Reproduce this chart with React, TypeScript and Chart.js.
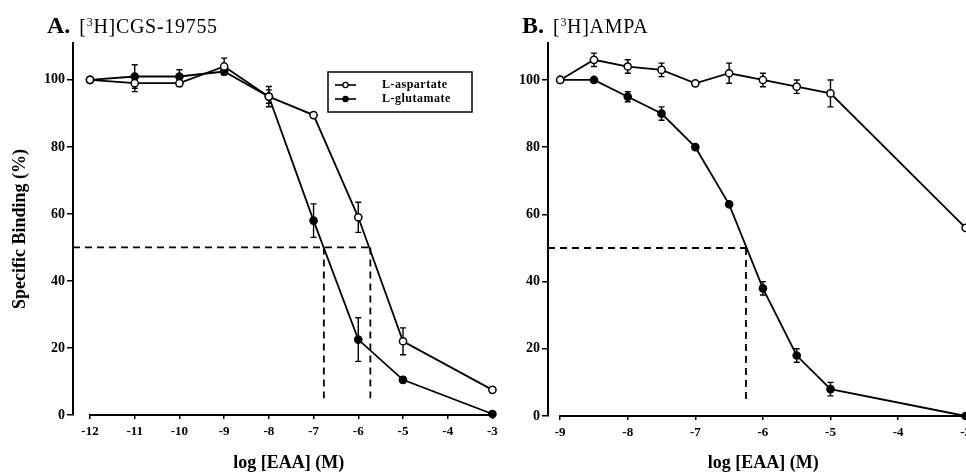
import React, { useEffect, useRef } from "react";
import { Chart, registerables } from "chart.js";

Chart.register(...registerables);

const FONT = "'Liberation Serif', 'Times New Roman', serif";

// ---- Panel A: [3H]CGS-19755 ----
const xA = [-12, -11, -10, -9, -8, -7, -6, -5, -3];
const aspartateA = [100, 99, 99, 104, 95, 89.5, 59, 22, 7.5];
const aspartateErrA = [0, 2.5, 1, 2.5, 2, 0, 4.5, 4, 0];
const glutamateA = [100, 101, 101, 102.5, 95, 58, 22.5, 10.5, 0.3];
const glutamateErrA = [0, 3.5, 2, 1, 3, 5, 6.5, 0.8, 0];
const xTicksA = [-12, -11, -10, -9, -8, -7, -6, -5, -4, -3];
const ic50A = [-6.77, -5.73];

// ---- Panel B: [3H]AMPA ----
const xB = [-9, -8.5, -8, -7.5, -7, -6.5, -6, -5.5, -5, -3];
const aspartateB = [100, 106, 104, 103, 99, 102, 100, 98, 96, 56];
const aspartateErrB = [0, 2, 2, 2, 0, 3, 2, 2, 4, 0];
const glutamateB = [100, 100, 95, 90, 80, 63, 38, 18, 8, 0];
const glutamateErrB = [0, 0, 1.5, 2, 0, 0.5, 2, 2, 2, 0];
const xTicksB = [-9, -8, -7, -6, -5, -4, -3];
const ic50B = [-6.25];

const yTicks = [0, 20, 40, 60, 80, 100];
const halfLevel = 50;
const dashFloor = 5;

const seriesNames = ["L-aspartate", "L-glutamate"];

const pts = (xs: number[], ys: number[]) => xs.map((x, i) => ({ x, y: ys[i] }));

const errorBarPlugin = {
  id: "errorBars",
  beforeDatasetsDraw(chart: any) {
    const ctx = chart.ctx;
    const yScale = chart.scales.y;
    ctx.save();
    ctx.strokeStyle = "#000";
    ctx.lineWidth = 1.4;
    chart.data.datasets.forEach((ds: any, i: number) => {
      if (!ds.errors) return;
      const meta = chart.getDatasetMeta(i);
      ds.data.forEach((p: any, j: number) => {
        const e = ds.errors[j];
        if (!e) return;
        const x = meta.data[j].x;
        const yt = yScale.getPixelForValue(p.y + e);
        const yb = yScale.getPixelForValue(p.y - e);
        ctx.beginPath();
        ctx.moveTo(x, yt);
        ctx.lineTo(x, yb);
        ctx.moveTo(x - 3, yt);
        ctx.lineTo(x + 3, yt);
        ctx.moveTo(x - 3, yb);
        ctx.lineTo(x + 3, yb);
        ctx.stroke();
      });
    });
    ctx.restore();
  },
};

const axisLinePlugin = {
  id: "axisLine",
  afterDraw(chart: any, _args: any, opts: any) {
    const ctx = chart.ctx;
    const xs = chart.scales.x;
    const ticks: number[] = opts.ticks;
    const y = chart.chartArea.bottom;
    ctx.save();
    ctx.strokeStyle = "#000";
    ctx.lineWidth = 2;
    ctx.beginPath();
    ctx.moveTo(xs.getPixelForValue(ticks[0]) - 1, y);
    ctx.lineTo(xs.getPixelForValue(ticks[ticks.length - 1]) + 1, y);
    ctx.stroke();
    ctx.restore();
  },
};

const boxLegendPlugin = {
  id: "boxLegend",
  afterDraw(chart: any, _args: any, opts: any) {
    if (!opts || !opts.show) return;
    const ctx = chart.ctx;
    const { left, top, width, height } = opts;
    ctx.save();
    ctx.strokeStyle = "#000";
    ctx.lineWidth = 1.5;
    ctx.fillStyle = "#fff";
    ctx.fillRect(left, top, width, height);
    ctx.strokeRect(left, top, width, height);
    const items = chart.data.datasets.filter((d: any) => d.legendLabel);
    items.forEach((d: any, k: number) => {
      const cy = top + 13 + k * 14;
      const sx = left + 7;
      ctx.strokeStyle = "#000";
      ctx.lineWidth = 1.6;
      ctx.beginPath();
      ctx.moveTo(sx, cy);
      ctx.lineTo(sx + 21, cy);
      ctx.stroke();
      ctx.beginPath();
      ctx.arc(sx + 10.5, cy, 2.6, 0, Math.PI * 2);
      ctx.fillStyle = d.pointBackgroundColor;
      ctx.fill();
      ctx.lineWidth = 1.3;
      ctx.stroke();
      ctx.fillStyle = "#000";
      ctx.font = `bold 12px ${FONT}`;
      try {
        (ctx as any).letterSpacing = "0.5px";
      } catch (e) {}
      ctx.textBaseline = "middle";
      ctx.textAlign = "left";
      ctx.fillText(d.legendLabel, sx + 47, cy);
    });
    ctx.restore();
  },
};

type PanelProps = {
  xs: number[];
  asp: number[];
  aspErr: number[];
  glu: number[];
  gluErr: number[];
  xTicks: number[];
  ic50: number[];
  xMin: number;
  xMax: number;
  yWidth: number;
  xHeight: number;
  padRight: number;
  yTitle: boolean;
  legend: boolean;
  width: number;
  left: number;
};

function seriesDataset(label: string, xs: number[], ys: number[], errs: number[], open: boolean, legend: boolean) {
  return {
    label,
    legendLabel: legend ? label : undefined,
    data: pts(xs, ys),
    errors: errs,
    borderColor: "#000",
    borderWidth: 1.8,
    pointRadius: 3.6,
    pointBorderWidth: 1.5,
    pointBorderColor: "#000",
    pointBackgroundColor: open ? "#fff" : "#000",
    pointStyle: "circle",
    tension: 0,
    clip: false,
    order: 1,
  };
}

function dashDataset(data: { x: number; y: number }[]) {
  return {
    label: "",
    data,
    borderColor: "#000",
    borderWidth: 1.8,
    borderDash: [7, 5],
    pointRadius: 0,
    tension: 0,
    clip: false,
    order: 2,
  };
}

function Panel(p: PanelProps) {
  const ref = useRef<HTMLCanvasElement | null>(null);
  useEffect(() => {
    if (!ref.current) return;
    const right = Math.max(...p.ic50);
    const dashes = [
      dashDataset([
        { x: p.xMin, y: halfLevel },
        { x: right, y: halfLevel },
      ]),
      ...p.ic50.map((v) =>
        dashDataset([
          { x: v, y: halfLevel },
          { x: v, y: dashFloor },
        ])
      ),
    ];
    const chart = new Chart(ref.current, {
      type: "line",
      data: {
        datasets: [
          ...dashes,
          seriesDataset(seriesNames[0], p.xs, p.asp, p.aspErr, true, p.legend),
          seriesDataset(seriesNames[1], p.xs, p.glu, p.gluErr, false, p.legend),
        ] as any,
      },
      options: {
        animation: false,
        responsive: false,
        maintainAspectRatio: false,
        events: [],
        layout: { padding: { left: 0, top: 43, right: p.padRight, bottom: 0 } },
        plugins: {
          legend: { display: false },
          tooltip: { enabled: false },
          axisLine: { ticks: p.xTicks },
          boxLegend: { show: p.legend, left: 328, top: 72, width: 144, height: 40 },
        } as any,
        scales: {
          x: {
            type: "linear",
            min: p.xMin,
            max: p.xMax,
            border: { display: false },
            grid: { drawOnChartArea: false, drawTicks: true, tickLength: 4, color: "#000", lineWidth: 1.5 },
            ticks: {
              color: "#000",
              font: { family: FONT, size: 13, weight: "bold" },
              padding: 5,
              autoSkip: false,
              maxRotation: 0,
            },
            afterBuildTicks: (s: any) => {
              s.ticks = p.xTicks.map((v) => ({ value: v }));
            },
            afterFit: (s: any) => {
              s.height = p.xHeight;
              s.paddingLeft = 0;
              s.paddingRight = 0;
            },
            title: {
              display: true,
              text: "log [EAA] (M)",
              color: "#000",
              font: { family: FONT, size: 18, weight: "bold" },
              padding: { top: 0, bottom: 0 },
            },
          },
          y: {
            type: "linear",
            min: 0,
            max: 111,
            border: { display: true, color: "#000", width: 2 },
            grid: { drawOnChartArea: false, drawTicks: true, tickLength: 6, color: "#000", lineWidth: 1.5 },
            ticks: {
              color: "#000",
              font: { family: FONT, size: 14, weight: "bold" },
              padding: 2,
            },
            afterBuildTicks: (s: any) => {
              s.ticks = yTicks.map((v) => ({ value: v }));
            },
            afterFit: (s: any) => {
              s.width = p.yWidth;
              s.paddingTop = 0;
              s.paddingBottom = 0;
            },
            title: {
              display: p.yTitle,
              text: "Specific Binding (%)",
              color: "#000",
              font: { family: FONT, size: 18, weight: "bold" },
              padding: { top: 10, bottom: 0 },
            },
          },
        },
      } as any,
      plugins: [errorBarPlugin, axisLinePlugin, boxLegendPlugin],
    });
    return () => chart.destroy();
  }, []);
  return (
    <canvas
      ref={ref}
      width={p.width}
      height={474}
      style={{ position: "absolute", left: p.left, top: 0, width: p.width, height: 474 }}
    />
  );
}

const titleStyle: React.CSSProperties = {
  position: "absolute",
  top: 13,
  fontFamily: FONT,
  lineHeight: "24px",
  color: "#000",
  whiteSpace: "nowrap",
};

function PanelTitle({ letter, sub, rest, left }: { letter: string; sub: string; rest: string; left: number }) {
  return (
    <div style={{ ...titleStyle, left }}>
      <span style={{ fontSize: 24, fontWeight: "bold" }}>{letter}</span>
      <span style={{ fontSize: 20, marginLeft: 9, letterSpacing: "0.7px" }}>
        [<span style={{ fontSize: 12, position: "relative", top: -7 }}>{sub}</span>H]{rest}
      </span>
    </div>
  );
}

export default function App() {
  return (
    <div
      style={{
        position: "fixed",
        left: 0,
        top: 0,
        width: 966,
        height: 474,
        overflow: "hidden",
        background: "#fff",
      }}
    >
      <Panel
        xs={xA}
        asp={aspartateA}
        aspErr={aspartateErrA}
        glu={glutamateA}
        gluErr={glutamateErrA}
        xTicks={xTicksA}
        ic50={ic50A}
        xMin={-12.38}
        xMax={-2.73}
        yWidth={73}
        xHeight={59}
        padRight={5}
        yTitle={true}
        legend={true}
        width={510}
        left={0}
      />
      <Panel
        xs={xB}
        asp={aspartateB}
        aspErr={aspartateErrB}
        glu={glutamateB}
        gluErr={glutamateErrB}
        xTicks={xTicksB}
        ic50={ic50B}
        xMin={-9.18}
        xMax={-2.81}
        yWidth={58}
        xHeight={58}
        padRight={0}
        yTitle={false}
        legend={false}
        width={494}
        left={490}
      />
      <PanelTitle letter="A." sub="3" rest="CGS-19755" left={47} />
      <PanelTitle letter="B." sub="3" rest="AMPA" left={522} />
    </div>
  );
}
